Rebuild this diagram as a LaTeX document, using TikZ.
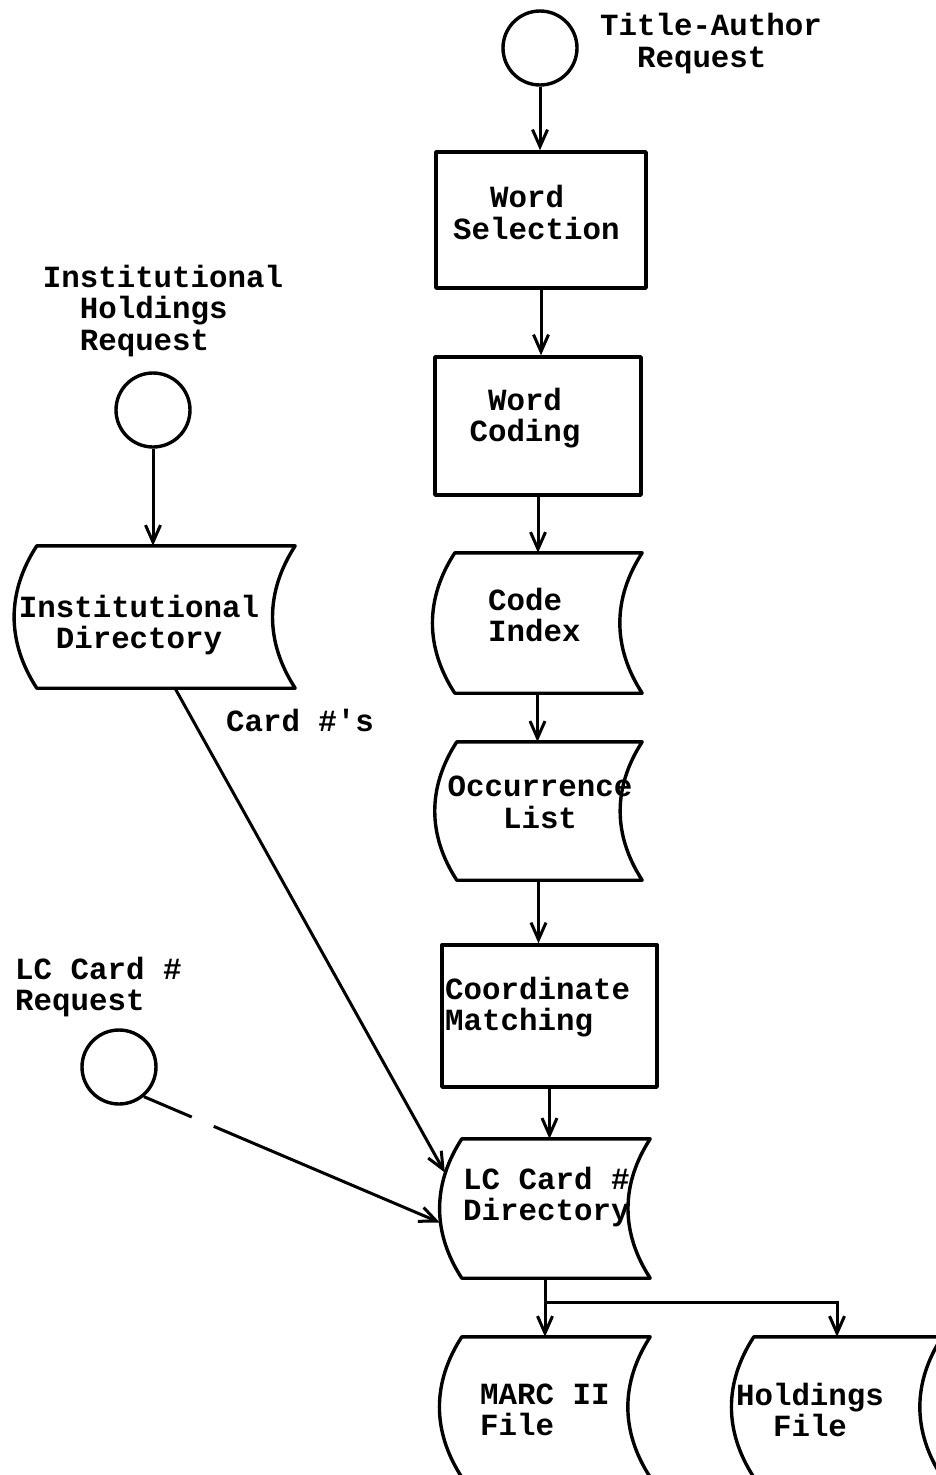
\documentclass[tikz,border=0pt]{standalone}
\usepackage{fontspec}
\setmonofont{Liberation Mono}
\usetikzlibrary{arrows.meta}

% outline of a file/storage symbol: flat top and bottom, both sides bowed left
\newcommand\storeoutline[1]{%
  \draw[outline] ([xshift=22pt]#1.north west) -- (#1.north east)
    to[bend right=33] (#1.south east) -- ([xshift=22pt]#1.south west)
    to[bend left=33] ([xshift=22pt]#1.north west) -- cycle;}

\begin{document}
\begin{tikzpicture}[x=1pt,y=-1pt,
  outline/.style={line width=3.4pt, line join=round, line cap=round},
  proc/.style={draw, outline, rectangle, inner sep=0pt},
  store/.style={rectangle, inner sep=0pt},
  term/.style={draw, outline, circle, minimum size=74pt, inner sep=0pt},
  txt/.style={font=\ttfamily\bfseries\fontsize{30.8}{31.5}\selectfont, inner sep=0pt},
  conn/.style={line width=3pt},
  arr/.style={conn, -{Straight Barb[length=17pt,width=15pt]}},
]
\useasboundingbox (0,0) rectangle (936,1475);
\clip (0,0) rectangle (936,1475);

% terminals
\node[term] (tac) at (540,48) {};
\node[term] (ihc) at (153,410) {};
\node[term] (lcc) at (119,1067) {};

% processes
\node[proc, minimum width=210pt, minimum height=136pt] (ws) at (541,220) {};
\node[proc, minimum width=206pt, minimum height=138pt] (wc) at (538,426) {};
\node[proc, minimum width=215pt, minimum height=142pt] (cm) at (549.5,1016) {};

% files
\node[store, minimum width=209pt, minimum height=140pt] (ci) at (537.5,623) {};
\node[store, minimum width=207pt, minimum height=138pt] (ol) at (538.5,811) {};
\node[store, minimum width=210pt, minimum height=139pt] (lcd) at (545,1208.5) {};
\node[store, minimum width=210pt, minimum height=140pt] (marc) at (545,1407) {};
\node[store, minimum width=210pt, minimum height=140pt] (hold) at (837,1407) {};
\node[store, minimum width=280pt, minimum height=142pt] (idir) at (155,617) {};
\foreach \n in {ci,ol,lcd,marc,hold,idir}{\storeoutline{\n}}

% labels
\node[txt, align=left] (tac-t) at (711,43.5) {Title-Author\\\phantom{xx}Request};
\node[txt, align=left] (ihc-t) at (163,311) {Institutional\\\phantom{xx}Holdings\\\phantom{xx}Request};
\node[txt, align=left, anchor=west] (lcc-t) at (15,987) {LC Card \#\\Request};
\node[txt, align=left, anchor=west] (ws-t) at (453,212.5) {\phantom{xx}Word\\Selection};
\node[txt, align=center] (wc-t) at (525,418) {Word\\Coding};
\node[txt, align=left, anchor=west] (ci-t) at (488,615) {Code\\Index};
\node[txt, align=center] (ol-t) at (540,802.5) {Occurrence\\List};
\node[txt, align=left, anchor=west] (cm-t) at (445,1007) {Coordinate\\Matching};
\node[txt, align=left, anchor=west] (lcd-t) at (463,1197) {LC Card \#\\Directory};
\node[txt, align=left, anchor=west] (marc-t) at (480,1410) {MARC II\\File};
\node[txt, align=center] (hold-t) at (810,1410) {Holdings\\File};
\node[txt, align=center] (idir-t) at (139,625) {Institutional\\Directory};
\node[txt] (card-t) at (300,720) {Card \#'s};

% main chain
\draw[arr] (tac) -- (tac |- ws.north);
\draw[arr] (ws.south) -- (ws.south |- wc.north);
\draw[arr] (wc.south) -- (wc.south |- ci.north);
\draw[arr] (ci.south) -- (ci.south |- ol.north);
\draw[arr] (ol.south) -- (ol.south |- cm.north);
\draw[arr] (cm.south) -- (cm.south |- lcd.north);

% side requests
\draw[arr] (ihc) -- (ihc |- idir.north);
\draw[arr] ([xshift=20pt]idir.south) -- ([shift={(5pt,36pt)}]lcd.west);
\draw[arr, dash pattern=on 52pt off 24pt on 600pt off 0pt] (lcc.-50) -- ([yshift=-14pt]lcd.west);

% output split
\coordinate (split) at ([yshift=-24pt]lcd.south);
\draw[conn] (lcd.south) -- (split);
\draw[arr] (split) -- (split |- marc.north);
\draw[arr] (split) -| (hold.north);
\end{tikzpicture}
\end{document}
